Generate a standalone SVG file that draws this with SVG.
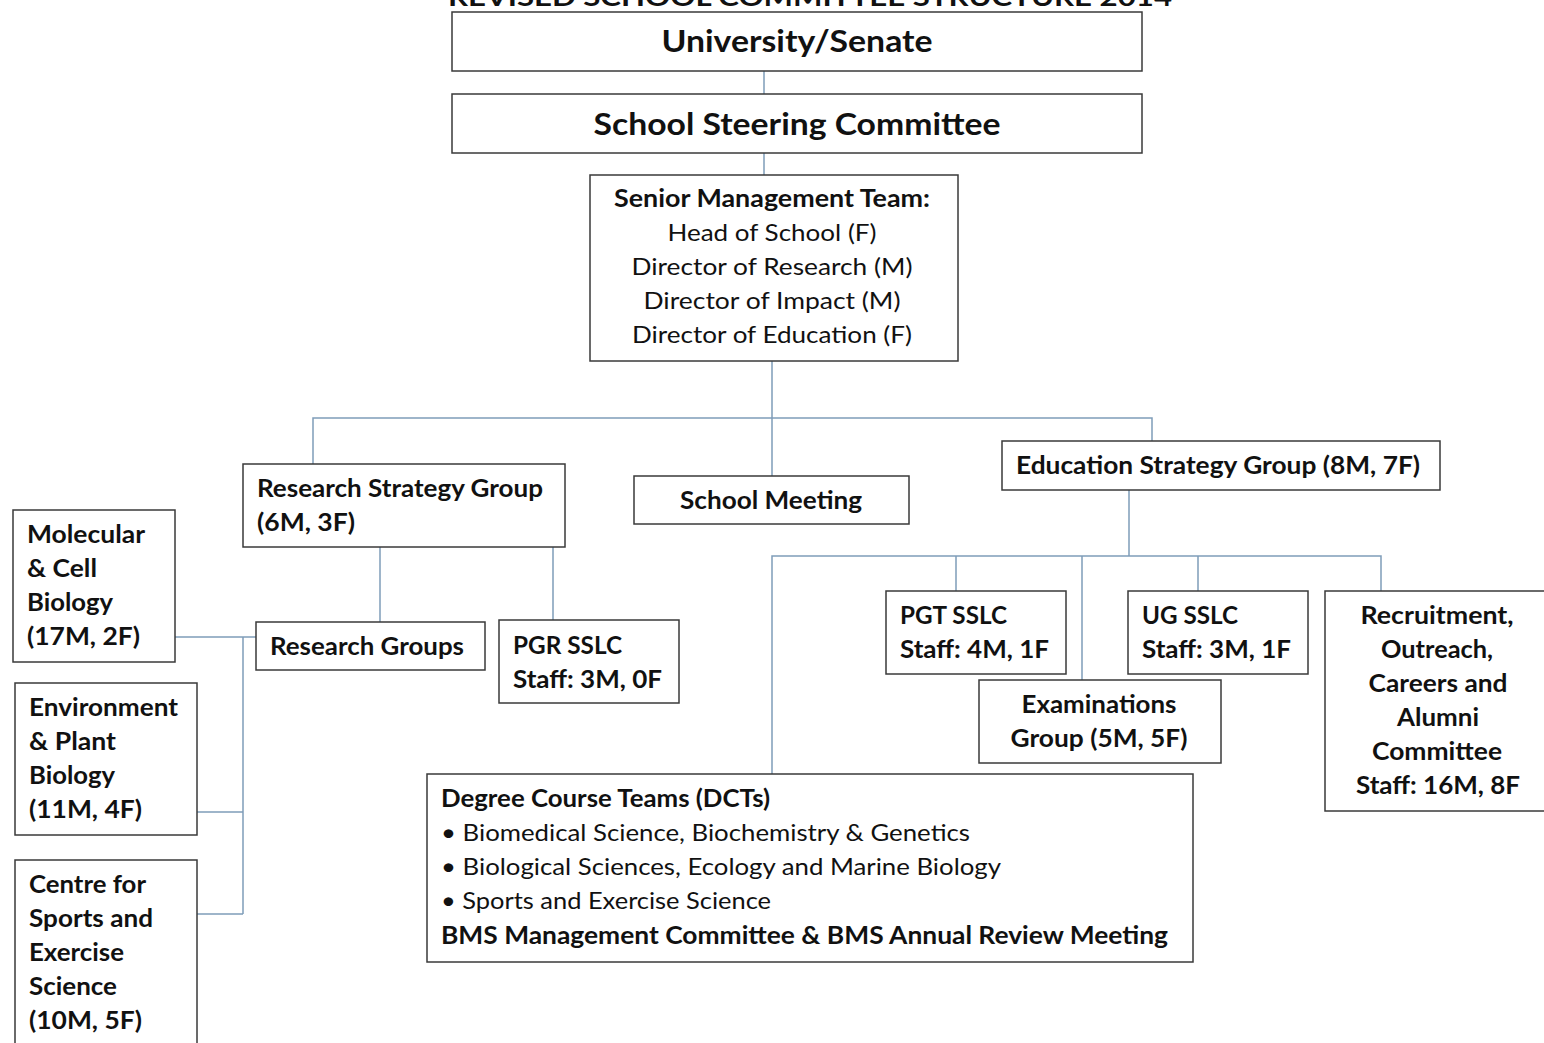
<svg xmlns="http://www.w3.org/2000/svg" width="1544" height="1043" viewBox="0 0 1544 1043">
<style>
.box{fill:#ffffff;stroke:#3a3a3a;stroke-width:1.5}
.ln{fill:none;stroke:#7f9db9;stroke-width:1.5}
text{font-family:Lato,"Open Sans","Liberation Sans",sans-serif;fill:#111;font-size:24px}
.b{font-weight:bold}
.c{text-anchor:middle}
.big{font-size:30px;font-weight:bold}
</style>
<rect width="1544" height="1043" fill="#ffffff"/>
<text class="b" x="448" y="6" textLength="724" lengthAdjust="spacingAndGlyphs">REVISED SCHOOL COMMITTEE STRUCTURE 2014</text>
<g id="connectors">
<path class="ln" d="M764 71V94M764 153V175"/>
<path class="ln" d="M772 361V476M313 464V418H1152V441"/>
<path class="ln" d="M380 547V622M553 547V620"/>
<path class="ln" d="M175 637H256M243 637V914M197 812H243M197 914H243"/>
<path class="ln" d="M1129 490V556M772 774V556H1381V591M956 556V591M1082 556V680M1198 556V591"/>
</g>
<g id="university">
<rect class="box" x="452" y="12" width="690" height="59"/>
<text class="big c" x="797" y="52" textLength="271" lengthAdjust="spacingAndGlyphs">University/Senate</text>
</g>
<g id="steering">
<rect class="box" x="452" y="94" width="690" height="59"/>
<text class="big c" x="797" y="135" textLength="407" lengthAdjust="spacingAndGlyphs">School Steering Committee</text>
</g>
<g id="smt">
<rect class="box" x="590" y="175" width="368" height="186"/>
<text class="b c" x="772" y="207" textLength="316" lengthAdjust="spacingAndGlyphs">Senior Management Team:</text>
<text class="c" x="772" y="241" textLength="209" lengthAdjust="spacingAndGlyphs">Head of School (F)</text>
<text class="c" x="772" y="275" textLength="281" lengthAdjust="spacingAndGlyphs">Director of Research (M)</text>
<text class="c" x="772" y="309" textLength="257" lengthAdjust="spacingAndGlyphs">Director of Impact (M)</text>
<text class="c" x="772" y="343" textLength="280" lengthAdjust="spacingAndGlyphs">Director of Education (F)</text>
</g>
<g id="rsg">
<rect class="box" x="243" y="464" width="322" height="83"/>
<text class="b" x="257" y="497" textLength="286" lengthAdjust="spacingAndGlyphs">Research Strategy Group</text>
<text class="b" x="257" y="531" textLength="98" lengthAdjust="spacingAndGlyphs">(6M, 3F)</text>
</g>
<g id="school-meeting">
<rect class="box" x="634" y="476" width="275" height="48"/>
<text class="b c" x="771" y="509" textLength="182" lengthAdjust="spacingAndGlyphs">School Meeting</text>
</g>
<g id="esg">
<rect class="box" x="1002" y="441" width="438" height="49"/>
<text class="b" x="1016" y="474" textLength="404" lengthAdjust="spacingAndGlyphs">Education Strategy Group (8M, 7F)</text>
</g>
<g id="molecular">
<rect class="box" x="13" y="510" width="162" height="152"/>
<text class="b" x="27" y="543" textLength="118" lengthAdjust="spacingAndGlyphs">Molecular</text>
<text class="b" x="27" y="577" textLength="70" lengthAdjust="spacingAndGlyphs">&amp; Cell</text>
<text class="b" x="27" y="611" textLength="86" lengthAdjust="spacingAndGlyphs">Biology</text>
<text class="b" x="27" y="645" textLength="113" lengthAdjust="spacingAndGlyphs">(17M, 2F)</text>
</g>
<g id="environment">
<rect class="box" x="15" y="683" width="182" height="152"/>
<text class="b" x="29" y="716" textLength="149" lengthAdjust="spacingAndGlyphs">Environment</text>
<text class="b" x="29" y="750" textLength="87" lengthAdjust="spacingAndGlyphs">&amp; Plant</text>
<text class="b" x="29" y="784" textLength="86" lengthAdjust="spacingAndGlyphs">Biology</text>
<text class="b" x="29" y="818" textLength="113" lengthAdjust="spacingAndGlyphs">(11M, 4F)</text>
</g>
<g id="sports-centre">
<rect class="box" x="15" y="860" width="182" height="190"/>
<text class="b" x="29" y="893" textLength="117" lengthAdjust="spacingAndGlyphs">Centre for</text>
<text class="b" x="29" y="927" textLength="124" lengthAdjust="spacingAndGlyphs">Sports and</text>
<text class="b" x="29" y="961" textLength="95" lengthAdjust="spacingAndGlyphs">Exercise</text>
<text class="b" x="29" y="995" textLength="88" lengthAdjust="spacingAndGlyphs">Science</text>
<text class="b" x="29" y="1029" textLength="113" lengthAdjust="spacingAndGlyphs">(10M, 5F)</text>
</g>
<g id="research-groups">
<rect class="box" x="256" y="622" width="229" height="48"/>
<text class="b" x="270" y="655" textLength="194" lengthAdjust="spacingAndGlyphs">Research Groups</text>
</g>
<g id="pgr-sslc">
<rect class="box" x="499" y="620" width="180" height="83"/>
<text class="b" x="513" y="654" textLength="109" lengthAdjust="spacingAndGlyphs">PGR SSLC</text>
<text class="b" x="513" y="688" textLength="149" lengthAdjust="spacingAndGlyphs">Staff: 3M, 0F</text>
</g>
<g id="pgt-sslc">
<rect class="box" x="886" y="591" width="180" height="83"/>
<text class="b" x="900" y="624" textLength="107" lengthAdjust="spacingAndGlyphs">PGT SSLC</text>
<text class="b" x="900" y="658" textLength="149" lengthAdjust="spacingAndGlyphs">Staff: 4M, 1F</text>
</g>
<g id="ug-sslc">
<rect class="box" x="1128" y="591" width="180" height="83"/>
<text class="b" x="1142" y="624" textLength="96" lengthAdjust="spacingAndGlyphs">UG SSLC</text>
<text class="b" x="1142" y="658" textLength="149" lengthAdjust="spacingAndGlyphs">Staff: 3M, 1F</text>
</g>
<g id="examinations">
<rect class="box" x="979" y="680" width="242" height="83"/>
<text class="b c" x="1099" y="713" textLength="155" lengthAdjust="spacingAndGlyphs">Examinations</text>
<text class="b c" x="1099" y="747" textLength="177" lengthAdjust="spacingAndGlyphs">Group (5M, 5F)</text>
</g>
<g id="recruitment">
<rect class="box" x="1325" y="591" width="222" height="220"/>
<text class="b c" x="1437" y="624" textLength="153" lengthAdjust="spacingAndGlyphs">Recruitment,</text>
<text class="b c" x="1437" y="658" textLength="112" lengthAdjust="spacingAndGlyphs">Outreach,</text>
<text class="b c" x="1438" y="692" textLength="139" lengthAdjust="spacingAndGlyphs">Careers and</text>
<text class="b c" x="1438" y="726" textLength="82" lengthAdjust="spacingAndGlyphs">Alumni</text>
<text class="b c" x="1437" y="760" textLength="130" lengthAdjust="spacingAndGlyphs">Committee</text>
<text class="b c" x="1438" y="794" textLength="164" lengthAdjust="spacingAndGlyphs">Staff: 16M, 8F</text>
</g>
<g id="dct">
<rect class="box" x="427" y="774" width="766" height="188"/>
<text class="b" x="441" y="807" textLength="329" lengthAdjust="spacingAndGlyphs">Degree Course Teams (DCTs)</text>
<text x="441" y="841" textLength="529" lengthAdjust="spacingAndGlyphs">• Biomedical Science, Biochemistry &amp; Genetics</text>
<text x="441" y="875" textLength="560" lengthAdjust="spacingAndGlyphs">• Biological Sciences, Ecology and Marine Biology</text>
<text x="441" y="909" textLength="330" lengthAdjust="spacingAndGlyphs">• Sports and Exercise Science</text>
<text class="b" x="441" y="944" textLength="727" lengthAdjust="spacingAndGlyphs">BMS Management Committee &amp; BMS Annual Review Meeting</text>
</g>
</svg>
